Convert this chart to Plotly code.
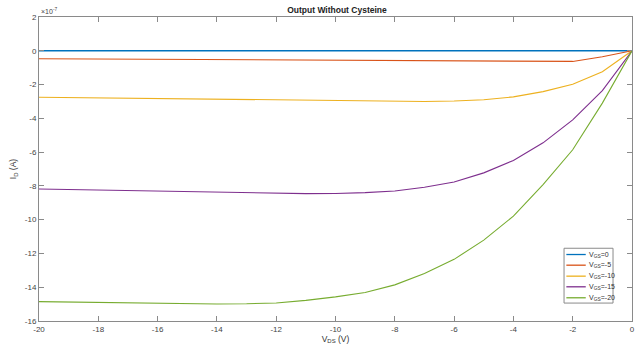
import plotly.graph_objects as go

vds = [-20, -19, -18, -17, -16, -15, -14, -13, -12, -11, -10, -9, -8, -7, -6, -5, -4, -3, -2, -1, 0]
# drain current in units of 1e-7 A
id_0 = [0.0] * 21
id_m5 = [-0.47, -0.48, -0.49, -0.50, -0.51, -0.52, -0.53, -0.54, -0.54, -0.55, -0.55, -0.56, -0.57, -0.58, -0.59, -0.60, -0.65, -0.64, -0.63, -0.35, 0.0]
id_m10 = [-2.75, -2.77, -2.78, -2.80, -2.81, -2.83, -2.84, -2.86, -2.88, -2.90, -2.92, -2.96, -2.99, -3.00, -2.97, -2.90, -2.73, -2.42, -1.98, -1.24, 0.0]
id_m15 = [-8.18, -8.21, -8.24, -8.27, -8.30, -8.34, -8.38, -8.41, -8.44, -8.46, -8.45, -8.40, -8.30, -8.08, -7.77, -7.23, -6.49, -5.45, -4.09, -2.36, 0.0]
id_m20 = [-14.85, -14.88, -14.91, -14.94, -14.96, -14.98, -14.99, -14.98, -14.93, -14.78, -14.57, -14.31, -13.86, -13.19, -12.35, -11.21, -9.79, -7.92, -5.86, -3.10, 0.0]

names = ["V<sub>GS</sub>=0", "V<sub>GS</sub>=-5", "V<sub>GS</sub>=-10", "V<sub>GS</sub>=-15", "V<sub>GS</sub>=-20"]
values = [id_0, id_m5, id_m10, id_m15, id_m20]
colors = ["#0072BD", "#D95319", "#EDB120", "#7E2F8E", "#77AC30"]
widths = [1.6, 1.1, 1.1, 1.1, 1.1]

x_ticks = list(range(-20, 1, 2))
y_ticks = list(range(-16, 3, 2))

FONT = "Liberation Sans, Arial"

fig = go.Figure()
for name, ys, color, w in zip(names, values, colors, widths):
    fig.add_trace(go.Scatter(x=vds, y=ys, mode="lines", name=name,
                             line=dict(color=color, width=w), showlegend=False))

axis_common = dict(showline=True, linecolor="#8a8a8a", linewidth=1, mirror="ticks",
                   ticks="inside", ticklen=5, tickcolor="#8a8a8a", showgrid=False,
                   zeroline=False, tickfont=dict(family=FONT, size=8, color="#444444"))

fig.update_layout(
    width=641, height=348,
    margin=dict(l=39, r=6, t=17, b=26),
    paper_bgcolor="white", plot_bgcolor="white",
    title=dict(text="<b>Output Without Cysteine</b>", x=0.5257, xanchor="center", y=0.972, yanchor="middle",
               font=dict(family=FONT, size=8.5, color="#222222")),
    xaxis=dict(range=[-20, 0], tickvals=x_ticks, ticktext=[str(v) for v in x_ticks],
               title=dict(text="V<sub>DS</sub> (V)", standoff=2,
                          font=dict(family=FONT, size=8.5, color="#333333")),
               **axis_common),
    yaxis=dict(range=[-16, 2], tickvals=y_ticks, ticktext=[str(v) for v in y_ticks],
               title=dict(text="I<sub>D</sub> (A)", standoff=6,
                          font=dict(family=FONT, size=8.5, color="#333333")),
               **axis_common),
    showlegend=False,
)
fig.add_annotation(text="×10<sup>-7</sup>", xref="paper", yref="paper", x=0, y=1.0,
                   xanchor="left", yanchor="bottom", showarrow=False,
                   font=dict(family=FONT, size=7, color="#444444"))

# compact MATLAB-style legend box (paper coordinates)
leg_x0, leg_x1, leg_y0, leg_y1 = 0.8854, 0.968, 0.059, 0.2393
fig.add_shape(type="rect", xref="paper", yref="paper", x0=leg_x0, x1=leg_x1, y0=leg_y0, y1=leg_y1,
              line=dict(color="#8a8a8a", width=1), fillcolor="white", layer="above")
entry_y = [0.2187, 0.1836, 0.1475, 0.1125, 0.0764]
for name, color, ey in zip(names, colors, entry_y):
    fig.add_shape(type="line", xref="paper", yref="paper", x0=0.8893, x1=0.922, y0=ey, y1=ey,
                  line=dict(color=color, width=1.3), layer="above")
    fig.add_annotation(text=name, xref="paper", yref="paper", x=0.9245, y=ey,
                       xanchor="left", yanchor="middle", showarrow=False,
                       font=dict(family=FONT, size=7, color="#333333"))

fig.write_html("out.html")
